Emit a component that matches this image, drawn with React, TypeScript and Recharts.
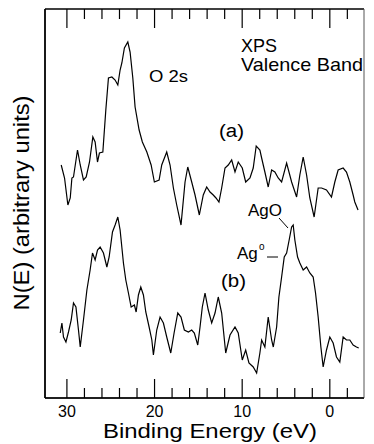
import { LineChart, Line, XAxis, YAxis, ReferenceLine } from "recharts";

// spectrum (a): binding energy (eV) and counts (arbitrary units)
const energyA = [
  30.65, 30.27, 29.89, 29.62, 29.43, 29.25, 28.79, 28.48, 28.11, 27.8, 27.42, 27.04,
  26.78, 26.51, 26.29, 25.9, 25.56, 25.26, 24.87, 24.5, 24.19, 23.93, 23.73, 23.44,
  23.05, 22.79, 22.48, 22.22, 21.76, 21.39, 20.88, 20.39, 20.02, 19.48, 19.18, 18.61,
  18.23, 17.85, 17.47, 16.98, 16.52, 16.21, 15.76, 15.38, 14.89, 14.44, 14.05, 13.67,
  13.3, 12.99, 12.65, 12.34, 11.96, 11.59, 11.2, 10.82, 10.45, 9.99, 9.6, 9.11,
  8.74, 8.4, 7.98, 7.78, 7.41, 7.03, 6.64, 6.27, 5.89, 5.5, 4.93, 4.36,
  3.79, 3.42, 3.04, 2.65, 2.28, 1.79, 1.33, 0.94, 0.38, -0.19, -0.57, -0.95,
  -1.52, -1.9, -2.28, -2.66, -2.85, -3.22,
];
const countA = [
  233, 220, 193, 200, 220, 221, 248, 233, 218, 221, 236, 261,
  256, 236, 245, 246, 288, 320, 321, 318, 313, 328, 335, 350,
  356, 346, 320, 291, 268, 256, 246, 233, 216, 218, 233, 246,
  233, 210, 193, 173, 216, 231, 216, 203, 183, 203, 211, 206,
  203, 200, 196, 210, 230, 233, 238, 226, 236, 230, 216, 220,
  230, 252, 248, 240, 226, 211, 228, 226, 220, 216, 235, 216,
  201, 223, 241, 223, 200, 181, 210, 210, 208, 201, 216, 228,
  230, 226, 216, 203, 196, 188,
];

// spectrum (b)
const energyB = [
  30.76, 30.57, 30.39, 30.11, 29.82, 29.51, 29.25, 28.97, 28.68, 28.48, 28.11, 27.72,
  27.35, 27.08, 26.78, 26.51, 26.21, 25.83, 25.44, 25.18, 24.8, 24.5, 24.19, 23.93,
  23.55, 23.28, 22.98, 22.67, 22.3, 22.1, 21.84, 21.57, 21.27, 21.0, 20.62, 20.31,
  20.13, 19.75, 19.37, 18.99, 18.61, 18.15, 17.77, 17.35, 16.98, 16.6, 16.14, 15.76,
  15.46, 15.07, 14.81, 14.55, 14.24, 13.87, 13.48, 13.1, 12.73, 12.34, 11.88, 11.39,
  10.82, 10.45, 9.99, 9.6, 9.23, 8.74, 8.35, 7.98, 7.78, 7.41, 7.03, 6.64,
  6.45, 6.07, 5.81, 5.5, 5.2, 4.93, 4.64, 4.36, 4.18, 3.99, 3.68, 3.42,
  3.04, 2.65, 2.28, 1.9, 1.63, 1.33, 1.02, 0.76, 0.38, 0.0, -0.38, -0.76,
  -1.14, -1.52, -1.9, -2.28, -2.66, -3.04, -3.3,
];
const countB = [
  65, 75, 61, 56, 66, 78, 95, 91, 68, 51, 78, 108,
  128, 145, 138, 148, 151, 145, 131, 141, 166, 173, 181, 168,
  135, 118, 105, 91, 93, 86, 103, 111, 103, 86, 71, 58,
  43, 68, 81, 75, 61, 45, 65, 85, 81, 68, 66, 68,
  65, 53, 71, 91, 105, 88, 75, 85, 101, 85, 45, 63,
  71, 65, 38, 48, 35, 31, 25, 45, 58, 51, 81, 58,
  51, 71, 101, 121, 141, 145, 158, 171, 173, 158, 141, 135,
  128, 131, 125, 121, 105, 81, 51, 31, 48, 61, 55, 41,
  36, 61, 58, 58, 53, 51, 50,
];

const majorTicks = [30, 20, 10, 0];
const minorTicks = [28, 26, 24, 22, 18, 16, 14, 12, 8, 6, 4, 2, -2];
const energyDomain = [-3.9, 32.5];
const countDomain = [0, 389];

const seriesA = energyA.map((e, i) => ({ e, n: countA[i] }));
const seriesB = energyB.map((e, i) => ({ e, n: countB[i] }));

const FONT = "'Liberation Sans', Arial, Helvetica, sans-serif";

// plot box (must agree with the chart margins below)
const PLOT_LEFT = 45;
const PLOT_RIGHT = 364;
const PLOT_TOP = 9;
const PLOT_BOTTOM = 398;

// reversed energy axis -> pixel, used only for the inward tick marks
const energyToPx = (v: number) =>
  PLOT_LEFT + ((energyDomain[1] - v) / (energyDomain[1] - energyDomain[0])) * (PLOT_RIGHT - PLOT_LEFT);

function EnergyTick(props: any) {
  const { x, y, payload } = props;
  return (
    <text x={x} y={y + 19} textAnchor="middle" fontSize={16} fontFamily={FONT} fill="#000">
      {payload.value}
    </text>
  );
}

function tickLines(values: number[], len: number) {
  return values.map((v) => {
    const x = energyToPx(v);
    return (
      <g key={v}>
        <line x1={x} x2={x} y1={PLOT_BOTTOM} y2={PLOT_BOTTOM - len} stroke="#000" strokeWidth={1.2} />
        <line x1={x} x2={x} y1={PLOT_TOP} y2={PLOT_TOP + len} stroke="#000" strokeWidth={1.2} />
      </g>
    );
  });
}

export default function App() {
  return (
    <div style={{ position: "absolute", left: 0, top: 0, width: 374, height: 444, background: "#fff" }}>
      <LineChart width={374} height={444} margin={{ top: PLOT_TOP, right: 374 - PLOT_RIGHT, bottom: 0, left: PLOT_LEFT }}>
        <XAxis
          dataKey="e"
          type="number"
          domain={energyDomain}
          reversed
          ticks={majorTicks}
          tick={<EnergyTick />}
          tickLine={false}
          tickSize={0}
          tickMargin={0}
          height={444 - PLOT_BOTTOM}
          interval={0}
          stroke="#000"
          allowDataOverflow
        />
        <YAxis type="number" domain={countDomain} hide allowDataOverflow />
        <ReferenceLine y={countDomain[0]} stroke="#000" strokeWidth={1.5} ifOverflow="visible" />
        <ReferenceLine y={countDomain[1]} stroke="#000" strokeWidth={1.5} ifOverflow="visible" />
        <ReferenceLine x={energyDomain[1]} stroke="#000" strokeWidth={1.8} ifOverflow="visible" />
        <ReferenceLine x={energyDomain[0]} stroke="#555" strokeWidth={1} ifOverflow="visible" />
        <Line data={seriesA} dataKey="n" stroke="#000" strokeWidth={1.2} dot={false} isAnimationActive={false} />
        <Line data={seriesB} dataKey="n" stroke="#000" strokeWidth={1.2} dot={false} isAnimationActive={false} />
      </LineChart>
      <svg
        width={374}
        height={444}
        style={{ position: "absolute", left: 0, top: 0, pointerEvents: "none" }}
        fontFamily={FONT}
        fill="#000"
      >
        {tickLines(majorTicks, 19)}
        {tickLines(minorTicks, 10)}
        <text x={241} y={52} fontSize={19} textLength={36} lengthAdjust="spacingAndGlyphs">XPS</text>
        <text x={241} y={71} fontSize={19} textLength={122} lengthAdjust="spacingAndGlyphs">Valence Band</text>
        <text x={149} y={82} fontSize={16} textLength={39} lengthAdjust="spacingAndGlyphs">O 2s</text>
        <text x={219} y={137} fontSize={18} textLength={25} lengthAdjust="spacingAndGlyphs">(a)</text>
        <text x={221} y={287} fontSize={18} textLength={25} lengthAdjust="spacingAndGlyphs">(b)</text>
        <text x={248} y={216} fontSize={17} textLength={34} lengthAdjust="spacingAndGlyphs">AgO</text>
        <line x1={279} y1={218} x2={288} y2={228} stroke="#000" strokeWidth={1} />
        <text x={237} y={259} fontSize={17}>Ag</text>
        <text x={259} y={250} fontSize={10}>o</text>
        <line x1={267} y1={257} x2={278} y2={257} stroke="#000" strokeWidth={1} />
        <text
          transform="translate(29,203) rotate(-90)"
          textAnchor="middle"
          fontSize={22}
          textLength={215}
          lengthAdjust="spacingAndGlyphs"
        >
          N(E) (arbitrary units)
        </text>
        <text x={210} y={438} textAnchor="middle" fontSize={21} textLength={214} lengthAdjust="spacingAndGlyphs">
          Binding Energy (eV)
        </text>
      </svg>
    </div>
  );
}
